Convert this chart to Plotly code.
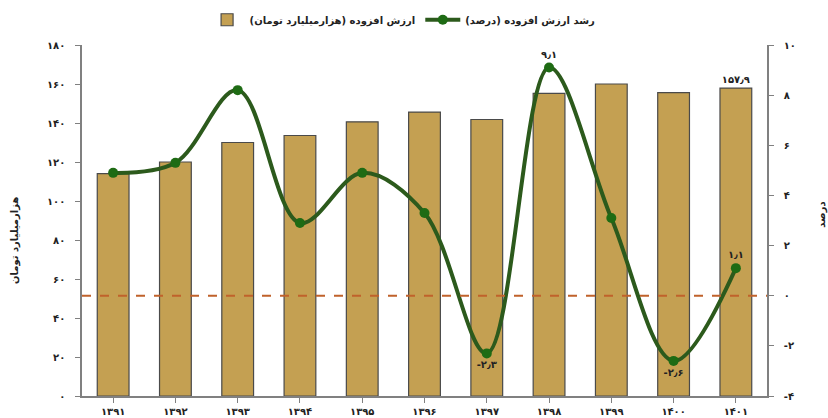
import plotly.graph_objects as go

years = ["۱۳۹۱", "۱۳۹۲", "۱۳۹۳", "۱۳۹۴", "۱۳۹۵", "۱۳۹۶", "۱۳۹۷", "۱۳۹۸", "۱۳۹۹", "۱۴۰۰", "۱۴۰۱"]
value_added = [114, 120, 130, 133.6, 140.6, 145.6, 141.8, 155.2, 160, 155.6, 157.9]
growth = [4.9, 5.3, 8.2, 2.9, 4.9, 3.3, -2.3, 9.1, 3.1, -2.6, 1.1]

bar_labels = ["", "", "", "", "", "", "", "", "", "", "۱۵۷٫۹"]
line_labels = ["", "", "", "", "", "", "-۲٫۳", "۹٫۱", "", "-۲٫۶", "۱٫۱"]
line_label_pos = ["top center"] * 6 + ["bottom center", "top center", "top center", "bottom center", "top center"]

left_ticks = [0, 20, 40, 60, 80, 100, 120, 140, 160, 180]
left_tick_text = ["۰", "۲۰", "۴۰", "۶۰", "۸۰", "۱۰۰", "۱۲۰", "۱۴۰", "۱۶۰", "۱۸۰"]
right_ticks = [-4, -2, 0, 2, 4, 6, 8, 10]
right_tick_text = ["-۴", "-۲", "۰", "۲", "۴", "۶", "۸", "۱۰"]

bar_name = "\u200fارزش افزوده (هزارمیلیارد تومان)\u200f"
line_name = "\u200fرشد ارزش افزوده (درصد)\u200f"
left_title = "\u200fهزارمیلیارد تومان\u200f"
right_title = "\u200fدرصد\u200f"

FONT = "DejaVu Sans"
x_idx = list(range(len(years)))

fig = go.Figure()
fig.add_trace(go.Bar(
    x=x_idx, y=value_added, name=bar_name,
    marker=dict(color="#C4A052", line=dict(color="#4A4A4A", width=1.2)),
    width=0.51,
    text=bar_labels, textposition="outside", cliponaxis=False,
    textfont=dict(family=FONT, size=10, color="#222", weight="bold"),
    yaxis="y",
))
fig.add_trace(go.Scatter(
    x=x_idx, y=growth, name=line_name, mode="lines+markers+text",
    line=dict(color="#2C5A1C", width=4, shape="spline", smoothing=1.0),
    marker=dict(color="#1E6B14", size=10),
    text=line_labels, textposition=line_label_pos,
    textfont=dict(family=FONT, size=10, color="#222", weight="bold"),
    cliponaxis=False,
    yaxis="y2",
))

fig.add_shape(type="line", xref="paper", x0=0, x1=1, yref="y2", y0=0, y1=0,
              line=dict(color="#C0622B", width=2, dash="dash"))

axis_font = dict(family=FONT, size=10, color="#222", weight="bold")
fig.update_layout(
    width=828, height=418,
    margin=dict(l=82, r=61, t=45, b=22, autoexpand=False),
    paper_bgcolor="white", plot_bgcolor="white",
    bargap=0.49,
    showlegend=True,
    legend=dict(orientation="h", x=0.468, xanchor="center", y=1.072, yanchor="middle",
                font=dict(family=FONT, size=10, color="#222", weight="bold"),
                itemwidth=35, bgcolor="rgba(0,0,0,0)"),
    xaxis=dict(range=[-0.5, 10.5], tickvals=x_idx, ticktext=years,
               tickson="boundaries", ticks="outside", ticklen=5, tickcolor="#808080",
               showline=True, linecolor="#808080", linewidth=1.5,
               showgrid=False, zeroline=False, tickfont=axis_font),
    yaxis=dict(range=[0, 180], tickvals=left_ticks, ticktext=left_tick_text,
               ticks="outside", ticklen=5, tickcolor="#808080",
               showline=True, linecolor="#808080", linewidth=1.5,
               showgrid=False, zeroline=False, tickfont=axis_font, ticklabelstandoff=8),
    yaxis2=dict(range=[-4, 10], tickvals=right_ticks, ticktext=right_tick_text,
                overlaying="y", side="right", anchor="x",
                ticks="outside", ticklen=5, tickcolor="#808080",
                showline=True, linecolor="#808080", linewidth=1.5,
                showgrid=False, zeroline=False, tickfont=axis_font, ticklabelstandoff=8),
    annotations=[
        dict(text=left_title, xref="paper", yref="paper", x=-0.098, y=0.444,
             xanchor="center", yanchor="middle",
             textangle=-90, showarrow=False, font=dict(family=FONT, size=10, color="#222", weight="bold")),
        dict(text=right_title, xref="paper", yref="paper", x=1.080, y=0.516,
             xanchor="center", yanchor="middle",
             textangle=-90, showarrow=False, font=dict(family=FONT, size=10, color="#222", weight="bold")),
    ],
)

fig.write_html("out.html", config={"displayModeBar": False},
               post_script="document.body.style.margin='0';")
